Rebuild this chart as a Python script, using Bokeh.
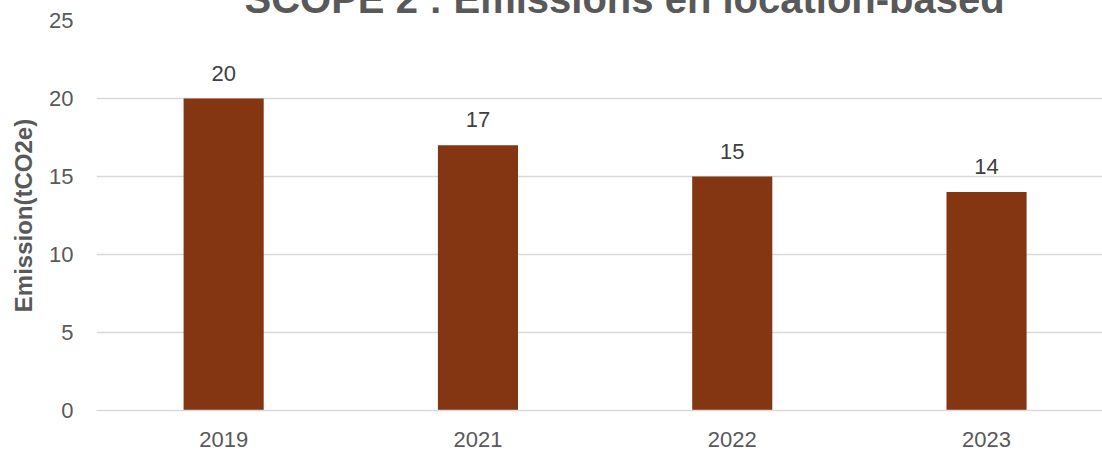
from bokeh.plotting import figure
from bokeh.models import Range1d, ColumnDataSource, LabelSet, Title
from bokeh.core.properties import value
from bokeh.embed import file_html
from bokeh.resources import INLINE

# ---- data ----
years = ["2019", "2021", "2022", "2023"]
emissions = [20, 17, 15, 14]
y_ticks = [0, 5, 10, 15, 20, 25]
title_text = "SCOPE 2 : Emissions en location-based"
y_label = "Emission(tCO2e)"

FONT = "Liberation Sans"
BAR = "#843512"
GRID = "#d9d9d9"
TICK = "#595959"
LAB = "#404040"

xs = [i + 0.5 for i in range(len(years))]
src = ColumnDataSource(dict(x=xs, top=emissions, label=[str(v) for v in emissions]))

p = figure(width=1102, height=483, output_backend="svg", toolbar_location=None,
           x_range=Range1d(0, 3.956), y_range=Range1d(0, 25),
           min_border_left=96, min_border_right=0, min_border_top=50, min_border_bottom=43,
           margin=(-30, 0, 0, 0))

p.title = Title(text=title_text, align="left", text_font=FONT, text_font_size="40px",
                text_font_style="bold", text_color=TICK, standoff=-1, offset=148)

p.outline_line_color = None
p.background_fill_color = "white"
p.border_fill_color = "white"

p.vbar(x="x", top="top", width=0.315, source=src, fill_color=BAR, line_color=None)

labels = LabelSet(x="x", y="top", text="label", source=src, y_offset=18,
                  text_align="center", text_baseline="alphabetic",
                  text_font=value(FONT), text_font_size=value("22px"), text_color=LAB)
p.add_layout(labels)

# grid
p.xgrid.grid_line_color = None
p.ygrid.grid_line_color = GRID
p.ygrid.grid_line_width = 1.3
p.ygrid.ticker = y_ticks

# y axis
p.yaxis.ticker = y_ticks
p.yaxis.axis_line_color = None
p.yaxis.major_tick_line_color = None
p.yaxis.minor_tick_line_color = None
p.yaxis.major_tick_out = 0
p.yaxis.major_tick_in = 0
p.yaxis.major_label_standoff = 23
p.yaxis.major_label_text_font = FONT
p.yaxis.major_label_text_font_size = "22px"
p.yaxis.major_label_text_color = TICK
p.yaxis.axis_label = y_label
p.yaxis.axis_label_text_font = FONT
p.yaxis.axis_label_text_font_size = "24px"
p.yaxis.axis_label_text_font_style = "bold"
p.yaxis.axis_label_text_color = TICK
p.yaxis.axis_label_standoff = 9

# x axis
p.xaxis.ticker = xs
p.xaxis.major_label_overrides = {x: y for x, y in zip(xs, years)}
p.xaxis.axis_line_color = GRID
p.xaxis.axis_line_width = 1.5
p.xaxis.major_tick_line_color = None
p.xaxis.minor_tick_line_color = None
p.xaxis.major_tick_out = 0
p.xaxis.major_tick_in = 0
p.xaxis.major_label_standoff = 21
p.xaxis.major_label_text_font = FONT
p.xaxis.major_label_text_font_size = "22px"
p.xaxis.major_label_text_color = TICK

open("out.html", "w").write(file_html(p, INLINE))
